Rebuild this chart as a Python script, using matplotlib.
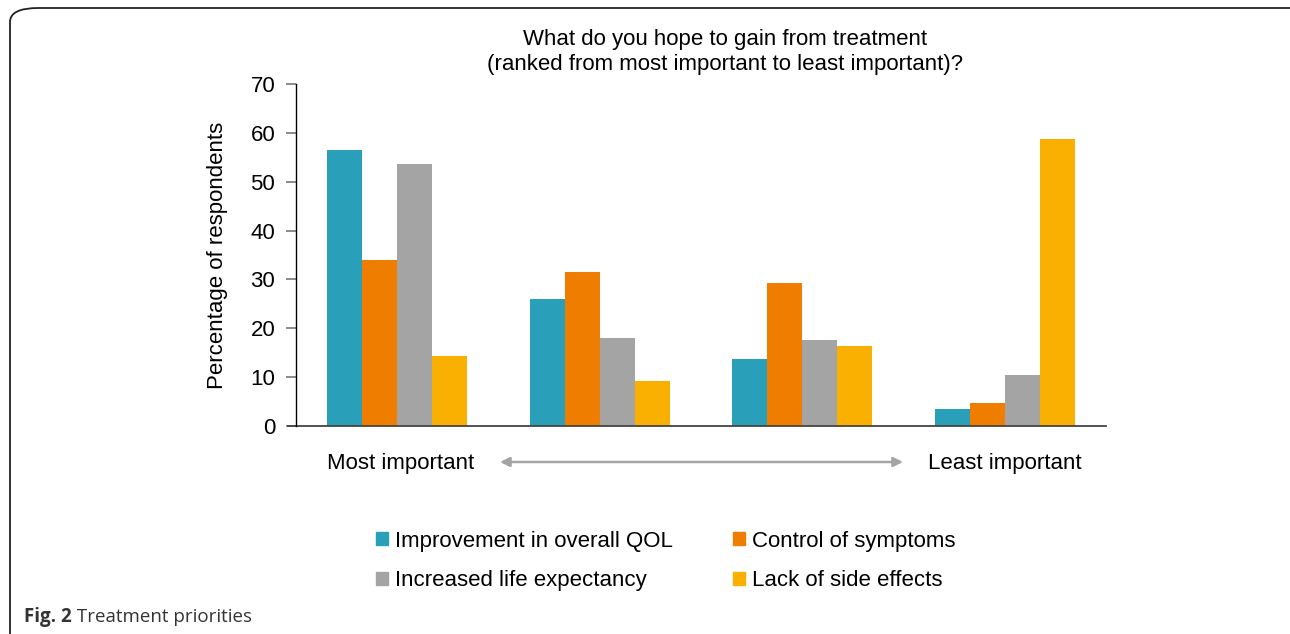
import matplotlib.pyplot as plt
from matplotlib.patches import FancyBboxPatch, Patch
import numpy as np

plt.rcParams['font.family'] = ['Liberation Sans', 'DejaVu Sans']

groups = ["Most important", "", "", "Least important"]
series = ["Improvement in overall QOL", "Control of symptoms",
          "Increased life expectancy", "Lack of side effects"]
qol = [56.4, 26.0, 13.7, 3.5]
symptoms = [33.9, 31.5, 29.3, 4.7]
life = [53.7, 18.1, 17.6, 10.4]
side_effects = [14.3, 9.2, 16.4, 58.7]
colors = ["#2a9fba", "#ef7d00", "#a3a4a3", "#f9b000"]

fig = plt.figure(figsize=(12.9, 6.34), dpi=100)
ax = fig.add_axes([0.2295, 0.328, 0.628, 0.5395])

x = np.arange(len(groups))
w = 0.173
for i, vals in enumerate([qol, symptoms, life, side_effects]):
    ax.bar(x + (i - 1.5) * w, vals, width=w, color=colors[i], label=series[i])

ax.set_xlim(-0.5, 3.5)
ax.set_ylim(0, 70)
ax.set_yticks(range(0, 71, 10))
ax.tick_params(axis='y', labelsize=16, length=7, width=1.2, color='#777777', pad=8)
ax.set_xticks([])
for s in ['top', 'right']:
    ax.spines[s].set_visible(False)
ax.spines['left'].set_linewidth(1.0)
ax.spines['bottom'].set_visible(False)
# baseline reaches a little left of the y axis, as in the original
ax.plot([-0.01, 1], [0, 0], transform=ax.transAxes, color='#444444', lw=1.3, clip_on=False)
ax.set_ylabel("Percentage of respondents", fontsize=16, labelpad=16)

fig.text(0.5624, 1 - 52 / 634, "What do you hope to gain from treatment\n(ranked from most important to least important)?",
         ha='center', va='center', fontsize=16, linespacing=1.3)

fig.text(401 / 1290, 1 - 463 / 634, "Most important", ha='center', va='center', fontsize=16)
fig.text(1005 / 1290, 1 - 463 / 634, "Least important", ha='center', va='center', fontsize=16)
ax.annotate("", xy=(903 / 1290, 1 - 462 / 634), xytext=(500 / 1290, 1 - 462 / 634),
            xycoords='figure fraction', textcoords='figure fraction',
            arrowprops=dict(arrowstyle='<|-|>', color='#a3a4a3', lw=1.8,
                            mutation_scale=14, shrinkA=0, shrinkB=0))

handles = [Patch(color=c) for c in colors]
order = [0, 2, 1, 3]
fig.legend([handles[i] for i in order], [series[i] for i in order],
           loc='center', bbox_to_anchor=(0.516, 1 - 561 / 634), ncol=2, frameon=False,
           fontsize=16, handlelength=0.55, handleheight=0.55, handletextpad=0.3,
           columnspacing=2.7, labelspacing=0.85)

fig.patches.append(FancyBboxPatch((10 / 1290, -0.2), 1.2, 1 - 8 / 634 + 0.2,
                                  boxstyle="round,pad=0,rounding_size=0.022",
                                  transform=fig.transFigure, fill=False,
                                  edgecolor='#222222', lw=1.3))
t1 = fig.text(24 / 1290, 1 - 617 / 634, "Fig. 2", fontsize=13.5, fontweight='bold',
              va='center', color='#333333', family=['Open Sans', 'DejaVu Sans'])
ax.annotate(" Treatment priorities", xy=(1, 0.5), xycoords=t1, va='center', ha='left',
            fontsize=13.5, color='#333333', family=['Open Sans', 'DejaVu Sans'],
            annotation_clip=False)

fig.savefig("out.png", dpi=100)
